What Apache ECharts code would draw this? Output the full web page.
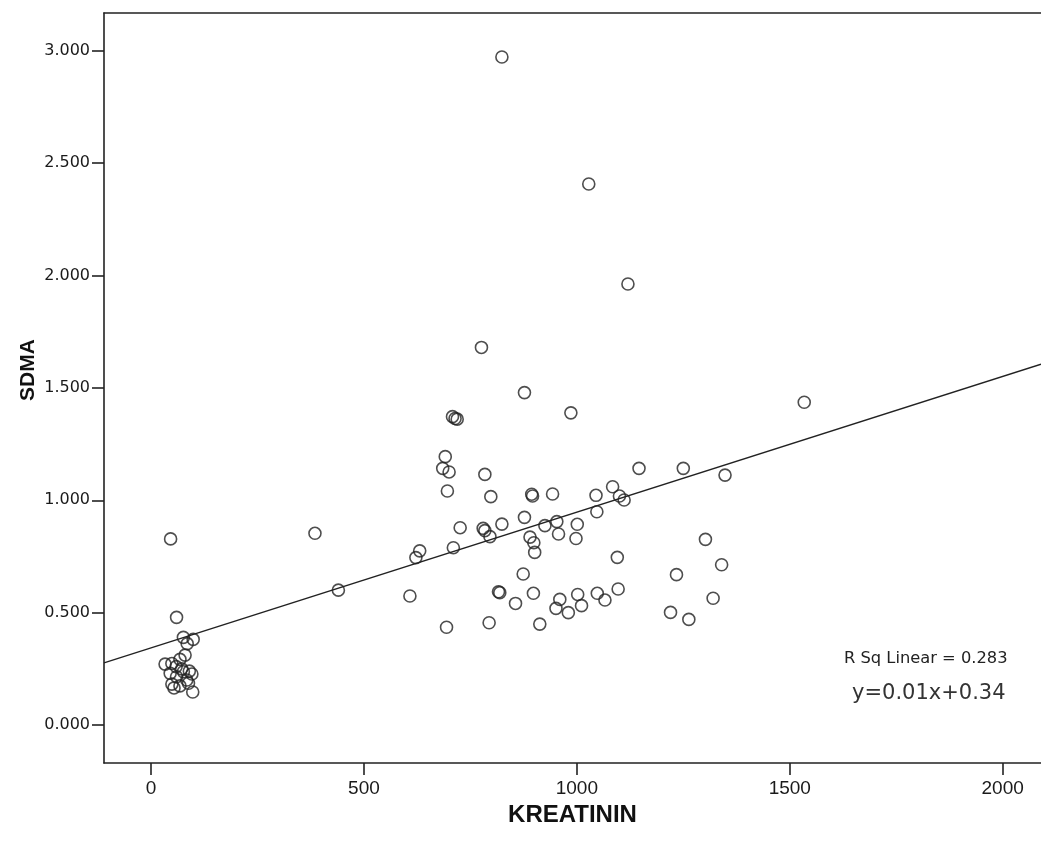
<!DOCTYPE html>
<html>
<head>
<meta charset="utf-8">
<script src="https://cdn.jsdelivr.net/npm/echarts@6/dist/echarts.min.js"></script>
<style>
html,body{margin:0;padding:0;background:#fff;}
#chart{width:1041px;height:843px;}
</style>
</head>
<body>
<div id="chart"></div>
<script>
// ---- data ----
const kreatinin = [
  46, 60, 76, 99, 85, 80, 33, 49, 68, 59, 45, 76, 96, 60, 84, 49, 68, 88, 98, 54, 72, 90,
  385, 440, 608, 622, 631, 694, 685, 691, 696, 700, 708, 714, 719, 710, 726, 776, 780, 784, 784,
  794, 796, 798, 816, 819, 824, 824, 856, 874, 877, 877, 890, 894, 896, 898, 899, 901, 913, 925,
  943, 951, 953, 957, 960, 980, 986, 998, 1001, 1002, 1011, 1028, 1045, 1047, 1048, 1066, 1084,
  1095, 1097, 1100, 1111, 1120, 1146, 1220, 1234, 1250, 1263, 1302, 1320, 1340, 1348, 1534
];
const sdma = [
  0.828, 0.479, 0.390, 0.381, 0.362, 0.311, 0.271, 0.274, 0.292, 0.260, 0.230, 0.237, 0.227, 0.215, 0.200, 0.182, 0.174, 0.186, 0.147, 0.165, 0.250, 0.240,
  0.853, 0.600, 0.574, 0.745, 0.775, 0.435, 1.142, 1.194, 1.041, 1.126, 1.372, 1.364, 1.361, 0.789, 0.878, 1.680, 0.875, 0.865, 1.115,
  0.455, 0.838, 1.016, 0.593, 0.589, 0.894, 2.972, 0.541, 0.672, 0.924, 1.479, 0.836, 1.027, 1.019, 0.586, 0.811, 0.768, 0.449, 0.887,
  1.028, 0.519, 0.905, 0.850, 0.559, 0.500, 1.389, 0.830, 0.893, 0.581, 0.531, 2.407, 1.022, 0.949, 0.586, 0.556, 1.060,
  0.746, 0.605, 1.019, 1.001, 1.962, 1.142, 0.501, 0.669, 1.142, 0.470, 0.826, 0.564, 0.713, 1.112, 1.436
];
const xTickValues = [0, 500, 1000, 1500, 2000];
const yTickValues = [0, 0.5, 1.0, 1.5, 2.0, 2.5, 3.0];
const xRange = [-110.4, 2090];
const yRange = [-0.169, 3.168];
const fitCoef = [0.343, 0.000604];           // intercept, slope
const annotations = ['R Sq Linear = 0.283', 'y=0.01x+0.34'];
const axisNames = ['KREATININ', 'SDMA'];

// ---- build ----
const points = kreatinin.map((x, i) => [x, sdma[i]]);
const fitLine = xRange.map(x => [x, fitCoef[0] + fitCoef[1] * x]);

const dark = '#222';
const chart = echarts.init(document.getElementById('chart'), null, {renderer: 'canvas'});
chart.setOption({
  animation: false,
  backgroundColor: '#fff',
  grid: {left: 104, top: 13, right: 0, bottom: 80, containLabel: false},
  xAxis: [{
    type: 'value',
    min: xRange[0], max: xRange[1],
    name: axisNames[0],
    nameLocation: 'middle',
    nameGap: 26,
    nameTextStyle: {fontFamily: 'Liberation Sans, Arial, sans-serif', fontWeight: 'bold', fontSize: 24, color: '#111', verticalAlign: 'top'},
    splitLine: {show: false},
    axisLine: {show: true, onZero: false, lineStyle: {color: dark, width: 1.6}},
    axisTick: {show: true, inside: false, length: 12, customValues: xTickValues, lineStyle: {color: dark, width: 1.6}},
    axisLabel: {customValues: xTickValues, margin: 16, fontFamily: 'Liberation Sans, Arial, sans-serif', fontSize: 19, color: '#1a1a1a',
      formatter: v => String(Math.round(v))}
  }, {
    type: 'value', position: 'top',
    min: xRange[0], max: xRange[1],
    splitLine: {show: false},
    axisLine: {show: true, onZero: false, lineStyle: {color: dark, width: 1.6}},
    axisTick: {show: false}, axisLabel: {show: false}
  }],
  yAxis: {
    type: 'value',
    min: yRange[0], max: yRange[1],
    splitLine: {show: false},
    axisLine: {show: true, onZero: false, lineStyle: {color: dark, width: 1.6}},
    axisTick: {show: true, inside: false, length: 12, customValues: yTickValues, lineStyle: {color: dark, width: 1.6}},
    axisLabel: {customValues: yTickValues, margin: 14, fontFamily: 'DejaVu Sans, sans-serif', fontSize: 16, color: '#1a1a1a',
      formatter: v => v.toFixed(3)}
  },
  series: [{
    type: 'scatter',
    data: points,
    symbol: 'circle',
    symbolSize: 12,
    itemStyle: {color: 'transparent', borderColor: dark, borderWidth: 1.6},
    z: 2
  }, {
    type: 'line',
    data: fitLine,
    symbol: 'none',
    lineStyle: {color: dark, width: 1.3},
    z: 3
  }],
  graphic: [{
    type: 'text', x: 28, y: 370, rotation: Math.PI / 2,
    style: {text: axisNames[1], fontFamily: 'Liberation Sans, Arial, sans-serif', fontWeight: 'bold', fontSize: 21,
      fill: '#111', align: 'center', verticalAlign: 'middle'}
  }, {
    type: 'text', left: 844, top: 651,
    style: {text: annotations[0], fontFamily: 'DejaVu Sans, sans-serif', fontSize: 16.3, fill: '#222'}
  }, {
    type: 'text', left: 852, top: 683,
    style: {text: annotations[1], fontFamily: 'DejaVu Sans, sans-serif', fontSize: 21, fill: '#333'}
  }]
});
</script>
</body>
</html>
